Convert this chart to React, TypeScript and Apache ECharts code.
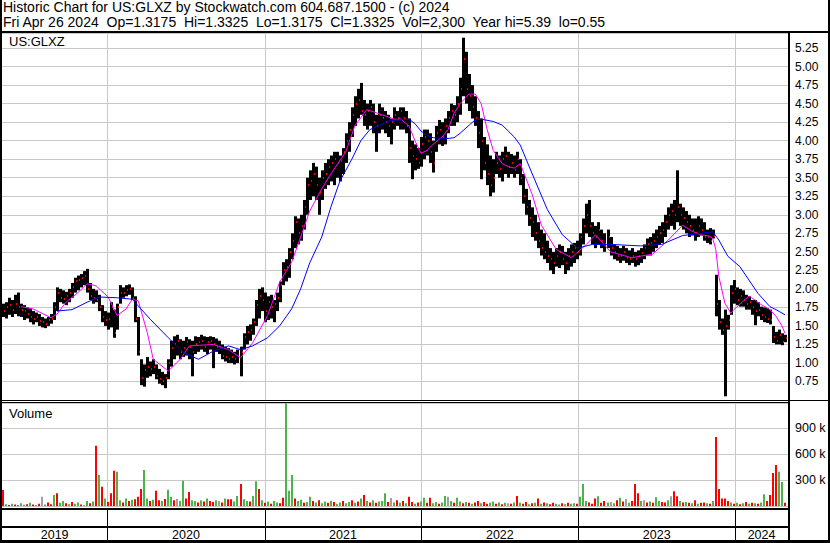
import React, { useEffect, useRef } from "react";
import * as echarts from "echarts";

const FONT = '"Liberation Sans", Arial, sans-serif';

// Weekly bars, first week ending 2019-05-03, last 2024-04-26
const highs = [
  1.80,1.82,1.88,1.85,1.92,1.95,1.80,1.78,1.75,1.74,
  1.70,1.68,1.66,1.62,1.60,1.62,1.66,1.82,2.02,2.00,
  1.98,1.96,2.00,2.08,2.15,2.18,2.20,2.24,2.27,2.08,
  2.00,1.98,1.92,1.78,1.70,1.68,1.82,1.72,1.80,2.05,
  2.02,2.05,2.06,2.02,1.90,1.62,1.05,0.98,1.08,1.02,
  1.05,0.98,0.92,0.88,0.85,1.05,1.30,1.36,1.38,1.32,
  1.30,1.35,1.32,1.30,1.36,1.35,1.38,1.36,1.35,1.36,
  1.35,1.33,1.30,1.25,1.22,1.20,1.18,1.15,1.18,1.22,
  1.40,1.50,1.52,1.60,1.85,2.00,2.02,1.95,1.90,1.92,
  1.85,1.95,2.10,2.36,2.40,2.55,2.75,2.98,2.95,3.00,
  3.20,3.50,3.60,3.70,3.65,3.50,3.60,3.70,3.75,3.80,
  3.85,3.85,3.80,3.90,4.10,4.25,4.45,4.60,4.70,4.78,
  4.55,4.50,4.55,4.50,4.35,4.50,4.45,4.40,4.35,4.30,
  4.45,4.40,4.45,4.45,4.40,4.30,4.00,3.95,3.90,4.05,
  4.15,4.15,4.10,4.00,4.20,4.28,4.25,4.30,4.40,4.50,
  4.48,4.60,4.85,5.39,5.20,4.90,4.75,4.60,4.40,4.30,
  4.05,3.95,3.80,3.75,3.85,3.80,3.85,3.92,3.85,3.82,
  3.80,3.85,3.75,3.55,3.35,3.20,3.10,3.00,2.90,2.80,
  2.75,2.65,2.55,2.50,2.55,2.60,2.58,2.50,2.55,2.60,
  2.62,2.65,2.75,2.95,3.15,3.20,2.90,2.85,2.90,2.80,
  2.75,2.80,2.70,2.60,2.58,2.55,2.58,2.55,2.52,2.55,
  2.50,2.52,2.55,2.60,2.68,2.70,2.75,2.80,2.85,2.90,
  3.00,3.10,3.15,3.20,3.60,3.15,3.10,3.05,3.00,2.95,
  2.95,2.98,2.95,2.90,2.80,2.82,2.80,2.19,1.85,1.60,
  1.72,1.65,2.05,2.12,2.02,2.00,1.98,1.92,1.90,1.85,
  1.85,1.82,1.76,1.75,1.74,1.72,1.50,1.42,1.45,1.40,1.38,
];
const lows = [
  1.62,1.60,1.65,1.62,1.66,1.63,1.62,1.58,1.60,1.55,
  1.52,1.55,1.50,1.48,1.47,1.50,1.53,1.58,1.70,1.82,
  1.80,1.78,1.82,1.88,1.95,1.98,2.02,2.05,1.95,1.85,
  1.80,1.82,1.70,1.55,1.50,1.45,1.48,1.34,1.45,1.80,
  1.88,1.90,1.92,1.85,1.55,1.10,0.70,0.68,0.80,0.82,
  0.85,0.78,0.72,0.70,0.66,0.78,0.95,1.05,1.10,1.05,
  1.08,1.10,1.05,0.82,1.12,1.15,1.18,1.15,1.12,1.18,
  0.93,1.15,1.12,1.05,1.02,1.00,1.00,0.98,1.00,0.82,
  1.18,1.25,1.30,1.38,1.50,1.60,1.70,1.55,1.58,1.60,
  1.55,1.70,1.82,2.05,2.10,2.15,2.40,2.55,2.60,2.65,
  2.80,3.00,3.20,3.25,3.20,3.00,3.20,3.35,3.40,3.45,
  3.40,3.50,3.45,3.55,3.70,3.85,4.05,4.20,4.30,4.35,
  4.20,4.15,4.20,4.10,3.85,4.10,4.15,4.10,4.05,3.95,
  4.15,4.20,4.15,4.15,4.10,3.70,3.48,3.60,3.62,3.65,
  3.75,3.80,3.70,3.57,3.85,3.95,3.93,3.95,4.10,4.20,
  4.20,4.25,4.35,4.60,4.50,4.40,4.30,4.20,3.90,3.48,
  3.60,3.40,3.25,3.30,3.55,3.50,3.45,3.55,3.50,3.55,
  3.50,3.55,3.40,3.15,3.00,2.85,2.70,2.65,2.55,2.45,
  2.40,2.35,2.25,2.20,2.30,2.28,2.32,2.20,2.25,2.30,
  2.35,2.40,2.45,2.60,2.75,2.70,2.60,2.55,2.60,2.55,
  2.50,2.55,2.45,2.40,2.38,2.35,2.38,2.35,2.32,2.35,
  2.30,2.32,2.35,2.40,2.45,2.45,2.50,2.55,2.60,2.62,
  2.70,2.80,2.85,2.80,2.90,2.85,2.80,2.75,2.70,2.72,
  2.65,2.70,2.72,2.65,2.62,2.60,2.68,1.63,1.45,1.38,
  0.55,1.45,1.65,1.80,1.78,1.76,1.76,1.72,1.72,1.65,
  1.51,1.63,1.58,1.55,1.54,1.52,1.27,1.25,1.25,1.24,1.28,
];
const closes = [
  1.70,1.75,1.78,1.72,1.80,1.75,1.72,1.70,1.66,1.62,
  1.60,1.62,1.56,1.55,1.52,1.58,1.60,1.75,1.95,1.88,
  1.86,1.90,1.95,2.02,2.10,2.12,2.15,2.18,2.00,1.90,
  1.88,1.85,1.75,1.62,1.58,1.60,1.75,1.40,1.75,1.95,
  1.95,1.98,2.00,1.88,1.60,1.15,0.80,0.90,0.95,0.92,
  0.95,0.82,0.78,0.75,0.80,1.00,1.20,1.25,1.30,1.15,
  1.20,1.28,1.22,1.15,1.25,1.28,1.30,1.22,1.28,1.30,
  1.25,1.22,1.20,1.10,1.08,1.05,1.08,1.05,1.10,1.15,
  1.35,1.42,1.45,1.55,1.78,1.90,1.85,1.70,1.82,1.75,
  1.80,1.88,2.05,2.25,2.30,2.50,2.65,2.90,2.75,2.85,
  3.10,3.40,3.45,3.55,3.40,3.30,3.50,3.55,3.65,3.70,
  3.75,3.70,3.72,3.85,4.00,4.15,4.35,4.50,4.55,4.40,
  4.35,4.40,4.45,4.25,4.20,4.35,4.30,4.25,4.20,4.25,
  4.35,4.30,4.40,4.30,4.20,3.90,3.80,3.75,3.70,3.95,
  4.05,4.00,3.85,3.70,4.10,4.15,4.05,4.20,4.30,4.40,
  4.35,4.50,4.70,5.10,4.70,4.60,4.45,4.30,4.10,4.00,
  3.70,3.55,3.40,3.50,3.70,3.62,3.75,3.80,3.65,3.70,
  3.60,3.75,3.50,3.25,3.10,2.95,2.90,2.75,2.65,2.55,
  2.50,2.45,2.40,2.35,2.45,2.50,2.40,2.35,2.45,2.50,
  2.55,2.50,2.70,2.85,3.00,2.85,2.75,2.70,2.80,2.65,
  2.60,2.70,2.55,2.50,2.45,2.45,2.50,2.42,2.40,2.45,
  2.40,2.45,2.48,2.55,2.60,2.62,2.65,2.70,2.75,2.80,
  2.90,3.00,3.05,3.00,3.10,3.00,2.95,2.90,2.85,2.80,
  2.75,2.85,2.80,2.70,2.70,2.65,2.72,1.80,1.55,1.45,
  1.50,1.58,1.95,2.00,1.85,1.90,1.85,1.80,1.82,1.75,
  1.70,1.72,1.65,1.62,1.60,1.58,1.35,1.30,1.38,1.28,1.3325,
];

// Volume (thousands) per week and its colour: g = up, r = down, n = unchanged
const volumes = [
  188,25,15,30,20,12,35,18,25,40,22,15,30,110,20,45,25,130,150,40,
  60,35,25,50,30,45,20,15,60,35,55,700,360,225,90,50,150,410,400,70,
  45,90,60,75,80,110,200,420,90,60,75,180,70,60,85,190,110,70,85,60,
  295,90,165,70,60,45,70,55,90,60,50,70,60,45,90,80,80,55,120,257,
  80,60,55,120,290,200,70,40,55,30,60,45,35,100,1190,180,360,90,60,75,
  40,50,110,60,45,70,35,55,40,65,50,30,45,60,35,50,70,40,55,90,
  130,60,45,70,40,55,60,150,50,95,45,70,40,60,35,110,50,30,45,55,
  100,40,100,35,50,30,45,120,110,60,40,100,55,35,50,40,30,45,60,35,
  50,30,40,55,30,45,25,40,35,30,45,120,40,30,50,25,35,40,90,30,
  45,35,25,40,30,20,35,25,40,30,35,30,110,257,60,45,30,90,115,40,
  60,45,50,35,70,100,55,85,40,60,257,150,60,70,45,55,40,105,60,50,
  45,70,115,175,115,60,45,50,40,35,70,30,40,45,35,30,60,800,200,90,
  90,60,45,30,40,25,35,50,30,40,35,30,45,140,60,130,385,477,400,280,40,
];
const volDir = (
  "rgrgrrggrgrgrngrrgrg" + "grgrggrngrgrgrgrrrgg" + "rgrgrrrggrgrrgrggrng" +
  "grrggrgrgrrgnrgrrggr" + "ggrggrgrgrggrrgggrgg" + "rggrgrggrgrggrggrgrg" +
  "rgrgrgggrngrgrgrrgrg" + "grrggrggngrggrgrgrrg" + "rrggrgrgnrgrgrrgrgrg" +
  "rgrrggrgrggrgggrrrgr" + "rgngrgrngrrrgnrgrggr" + "rgnrrgrgrgrgrrgrgrrr" +
  "rrgrgrgrgrgrggrrrrggr"
).split("");

// Moving averages (week index, value)
const pinkIdx = [6,10,16,18,21,25,28,31,35,38,41,43,45,48,50,55,59,62,70,75,79,83,88,92,96,99,102,106,109,114,117,121,126,131,132,135,137,139,141,143,146,148,150,152,155,157,159,161,163,166,168,170,172,176,179,184,189,194,197,202,209,216,221,226,229,232,235,236,237,238,240,242,243,246,248,250,252,255,257,259,260];
const pinkVal = [1.76,1.73,1.61,1.66,1.82,1.95,2.07,2.04,1.89,1.64,1.73,1.86,1.84,1.41,1.05,0.89,1.05,1.23,1.25,1.18,1.07,1.27,1.64,2.09,2.36,2.70,3.05,3.35,3.55,3.85,4.20,4.42,4.35,4.28,4.30,4.20,4.00,3.83,3.87,3.95,4.05,4.15,4.37,4.50,4.63,4.63,4.50,4.15,3.87,3.69,3.65,3.63,3.69,3.27,2.86,2.53,2.42,2.60,2.73,2.50,2.42,2.47,2.65,2.86,2.78,2.73,2.71,2.68,2.53,2.17,1.81,1.67,1.72,1.83,1.90,1.85,1.79,1.72,1.63,1.50,1.40];
const blueIdx = [18,23,28,32,38,43,49,55,60,65,70,75,79,83,88,92,96,99,102,106,109,112,116,119,122,126,129,132,135,137,139,141,143,148,150,152,155,157,159,163,166,168,170,172,176,181,186,191,196,202,212,219,226,232,236,238,241,245,248,251,255,257,260];
const blueVal = [1.70,1.72,1.82,1.89,1.88,1.86,1.59,1.34,1.14,1.05,1.16,1.23,1.18,1.23,1.34,1.50,1.73,2.00,2.35,2.70,3.10,3.45,3.75,4.00,4.15,4.22,4.28,4.28,4.29,4.23,4.13,4.07,4.04,4.03,4.04,4.10,4.21,4.28,4.29,4.26,4.21,4.13,4.05,3.94,3.55,3.07,2.73,2.55,2.60,2.60,2.58,2.60,2.72,2.75,2.77,2.66,2.44,2.30,2.12,1.94,1.76,1.72,1.65];

const yearLabels = ["2019", "2020", "2021", "2022", "2023", "2024"];
const priceTicks = { min: 0.5, max: 5.4535, step: 0.25 };
const volTicks = { min: 0, max: 1192, step: 300 };

const headerLine1 = "Historic Chart for US:GLXZ by Stockwatch.com 604.687.1500 - (c) 2024";
const headerLine2 =
  "Fri Apr 26 2024  Op=1.3175  Hi=1.3325  Lo=1.3175  Cl=1.3325  Vol=2,300  Year hi=5.39  lo=0.55";

export default function App() {
  const ref = useRef<HTMLDivElement>(null);

  useEffect(() => {
    if (!ref.current) return;
    const chart = echarts.init(ref.current, undefined, { renderer: "svg", width: 830, height: 543 });

    const weekTs = highs.map((_, i) => new Date(2019, 4, 3 + 7 * i).getTime());
    const axisMin = new Date(2019, 4, 1).getTime();
    const axisMax = new Date(2024, 4, 3).getTime();
    const yearStarts = [2020, 2021, 2022, 2023, 2024].map((y) => new Date(y, 0, 1).getTime());
    const bounds = [axisMin, ...yearStarts, axisMax];
    const yearMids = yearLabels.map((_, i) => (bounds[i] + bounds[i + 1]) / 2);

    const colorOf = (d: string) => (d === "g" ? "#4cb24c" : d === "r" ? "#ff0000" : "#a0a0a0");

    const yearLineSeries = (gridIdx: number, yv: number, color: string) => ({
      type: "custom",
      xAxisIndex: gridIdx,
      yAxisIndex: gridIdx,
      silent: true,
      z: 1,
      data: yearStarts.map((t) => [t, yv]),
      renderItem: (params: any, api: any) => {
        const p = api.coord([api.value(0), yv]);
        const cs = params.coordSys;
        const x = Math.round(p[0]) + 0.5;
        return {
          type: "line",
          shape: { x1: x, y1: cs.y, x2: x, y2: cs.y + cs.height },
          style: { stroke: color, lineWidth: 1 },
        };
      },
    });

    const timeAxis = (gridIndex: number) => ({
      type: "time",
      gridIndex,
      min: axisMin,
      max: axisMax,
      show: false,
      splitLine: { show: false },
    });

    const textEl = (x: number, y: number, text: string, size: number) => ({
      type: "text",
      x,
      y,
      z: 110,
      silent: true,
      style: {
        text,
        fill: "#000",
        font: `${size}px ${FONT}`,
        align: "left",
        verticalAlign: "middle",
      },
    });
    const bar = (x: number, y: number, w: number, h: number) => ({
      type: "rect",
      z: 100,
      silent: true,
      shape: { x, y, width: w, height: h },
      style: { fill: "#000" },
    });

    chart.setOption({
      animation: false,
      backgroundColor: "#ffffff",
      grid: [
        { left: 2, right: 42, top: 33, height: 367 },
        { left: 2, right: 42, top: 403, height: 103.3 },
        { left: 2, right: 42, top: 510, height: 30 },
      ],
      xAxis: [timeAxis(0), timeAxis(1), timeAxis(2)],
      yAxis: [
        {
          type: "value",
          gridIndex: 0,
          position: "right",
          min: priceTicks.min,
          max: priceTicks.max,
          interval: priceTicks.step,
          axisLine: { show: false },
          axisTick: { show: false },
          axisLabel: {
            margin: 7,
            fontSize: 12,
            fontFamily: FONT,
            color: "#000",
            formatter: (v: number) => (v < 0.6 || v > 5.3 ? "" : v.toFixed(2)),
          },
          splitLine: { show: true, lineStyle: { color: "#c8c8c8", width: 1 } },
        },
        {
          type: "value",
          gridIndex: 1,
          position: "right",
          min: volTicks.min,
          max: volTicks.max,
          interval: volTicks.step,
          axisLine: { show: false },
          axisTick: { show: false },
          axisLabel: {
            margin: 7,
            fontSize: 12.5,
            fontFamily: FONT,
            color: "#000",
            formatter: (v: number) => (v > 0 && v < 1000 ? `${v} k` : ""),
          },
          splitLine: { show: true, lineStyle: { color: "#c8c8c8", width: 1 } },
        },
        { type: "value", gridIndex: 2, min: 0, max: 1, show: false, splitLine: { show: false } },
      ],
      series: [
        yearLineSeries(0, 1, "#c8c8c8"),
        yearLineSeries(1, 0, "#c8c8c8"),
        yearLineSeries(2, 0.5, "#000000"),
        {
          type: "custom",
          name: "price",
          xAxisIndex: 0,
          yAxisIndex: 0,
          z: 3,
          clip: true,
          encode: { x: 0, y: [1, 2] },
          data: weekTs.map((t, i) => [t, highs[i], lows[i], closes[i]]),
          renderItem: (params: any, api: any) => {
            const hi = api.coord([api.value(0), api.value(1)]);
            const lo = api.coord([api.value(0), api.value(2)]);
            const cl = api.coord([api.value(0), api.value(3)]);
            const x = Math.round(hi[0]) - 1;
            return {
              type: "group",
              children: [
                {
                  type: "rect",
                  shape: { x, y: hi[1], width: 3, height: Math.max(1, lo[1] - hi[1]) },
                  style: { fill: "#000" },
                },
                {
                  type: "rect",
                  shape: { x: x + 2, y: Math.round(cl[1]) - 1, width: 1, height: 2 },
                  style: { fill: "#ff0000" },
                },
              ],
            };
          },
        },
        {
          type: "line",
          name: "ma1",
          xAxisIndex: 0,
          yAxisIndex: 0,
          z: 4,
          showSymbol: false,
          data: pinkIdx.map((k, i) => [weekTs[k], pinkVal[i]]),
          lineStyle: { color: "#ff00ff", width: 1 },
        },
        {
          type: "line",
          name: "ma2",
          xAxisIndex: 0,
          yAxisIndex: 0,
          z: 4,
          showSymbol: false,
          data: blueIdx.map((k, i) => [weekTs[k], blueVal[i]]),
          lineStyle: { color: "#0000ff", width: 1 },
        },
        {
          type: "custom",
          name: "volume",
          xAxisIndex: 1,
          yAxisIndex: 1,
          z: 3,
          clip: true,
          encode: { x: 0, y: 1 },
          data: weekTs.map((t, i) => [t, volumes[i]]),
          renderItem: (params: any, api: any) => {
            const top = api.coord([api.value(0), api.value(1)]);
            const base = api.coord([api.value(0), 0]);
            return {
              type: "rect",
              shape: { x: Math.round(top[0]) - 1, y: top[1], width: 2, height: base[1] - top[1] },
              style: { fill: colorOf(volDir[params.dataIndex] || "g") },
            };
          },
        },
        {
          type: "custom",
          name: "years",
          xAxisIndex: 2,
          yAxisIndex: 2,
          z: 5,
          data: yearMids.map((t) => [t, 0.5]),
          renderItem: (params: any, api: any) => {
            const p = api.coord([api.value(0), 0.5]);
            return {
              type: "text",
              x: p[0],
              y: 534.5,
              style: {
                text: yearLabels[params.dataIndex],
                fill: "#000",
                font: `12.5px ${FONT}`,
                align: "center",
                verticalAlign: "middle",
              },
            };
          },
        },
      ],
      graphic: [
        bar(0, 0, 2, 543),
        bar(828, 0, 2, 543),
        bar(0, 31, 830, 2),
        bar(788, 31, 2, 512),
        bar(0, 400, 830, 1),
        bar(0, 402, 788, 1),
        bar(0, 508, 788, 2),
        bar(0, 526, 788, 2),
        bar(0, 540, 830, 3),
        textEl(3, 7.2, headerLine1, 14),
        textEl(3, 21.7, headerLine2, 14),
        textEl(9, 41.7, "US:GLXZ", 13),
        textEl(9, 413, "Volume", 13),
      ],
    });

    return () => chart.dispose();
  }, []);

  return (
    <div
      ref={ref}
      style={{ position: "fixed", left: 0, top: 0, width: 830, height: 543, background: "#fff" }}
    />
  );
}
